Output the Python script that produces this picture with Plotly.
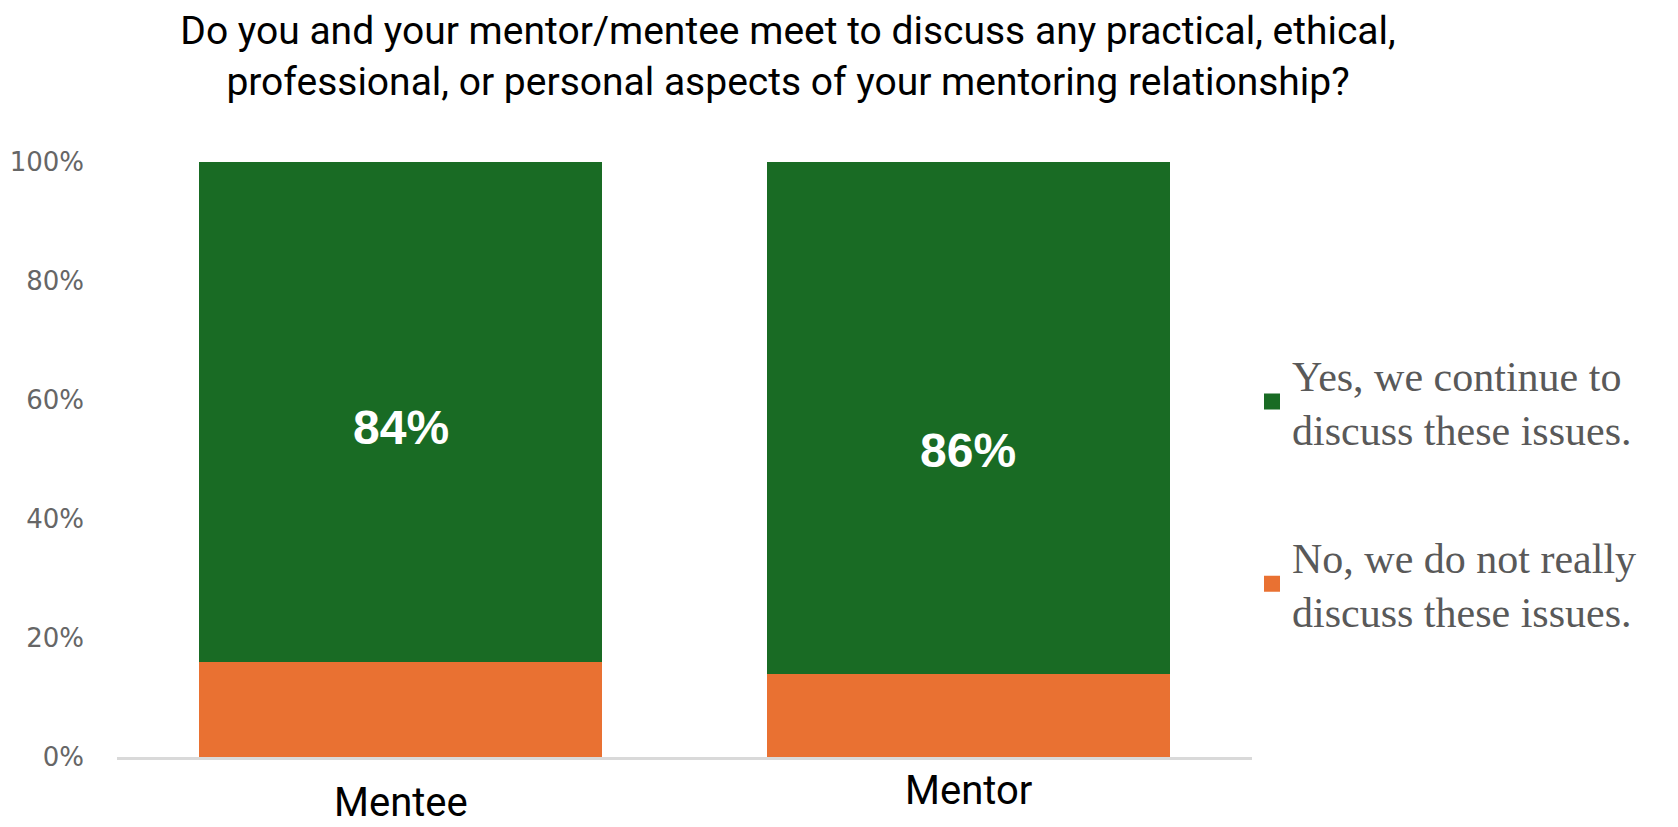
import plotly.graph_objects as go

categories = ["Mentee", "Mentor"]
yes_vals = [0.84, 0.86]
no_vals = [0.16, 0.14]
yes_name = "Yes, we continue to<br>discuss these issues."
no_name = "No, we do not really<br>discuss these issues."
title_text = ("Do you and your mentor/mentee meet to discuss any practical, ethical,<br>"
              "professional, or personal aspects of your mentoring relationship?")
label_yshift = [-16, -33]
xlabel_yshift = [-45, -33]

GREEN = "#196B24"
ORANGE = "#E97132"

W, H = 1670, 819  # page body has an 8px margin

fig = go.Figure()
fig.add_trace(go.Bar(x=categories, y=no_vals, name=no_name, marker_color=ORANGE,
                     marker_line_width=0, showlegend=False))
fig.add_trace(go.Bar(x=categories, y=yes_vals, name=yes_name, marker_color=GREEN,
                     marker_line_width=0, showlegend=False))
# legend entries (square swatches)
fig.add_trace(go.Scatter(x=[None], y=[None], mode="markers", name=yes_name,
                         marker=dict(symbol="square", size=18, color=GREEN),
                         legendgroup="yes", hoverinfo="skip"))
fig.add_trace(go.Scatter(x=[None], y=[None], mode="markers", name=no_name,
                         marker=dict(symbol="square", size=18, color=ORANGE),
                         legendgroup="no", hoverinfo="skip"))

for i, c in enumerate(categories):
    fig.add_annotation(x=c, y=no_vals[i] + yes_vals[i] / 2, xref="x", yref="y",
                       text=f"{round(yes_vals[i]*100)}%", showarrow=False,
                       yshift=label_yshift[i],
                       font=dict(family="Liberation Sans", size=48, color="white", weight="bold"))
    fig.add_annotation(x=c, y=0, xref="x", yref="paper", text=c, showarrow=False,
                       yshift=xlabel_yshift[i], yanchor="middle",
                       font=dict(family="Roboto", size=40, color="black"))

fig.update_layout(
    width=W, height=H,
    barmode="stack", bargap=0.29,
    paper_bgcolor="white", plot_bgcolor="white",
    margin=dict(l=109, r=425, t=154, b=70),
    title=dict(text=title_text, x=780/W, xref="container", xanchor="center",
               y=1 - 36/H, yref="container", yanchor="middle",
               font=dict(family="Roboto", size=39, color="black")),
    xaxis=dict(showticklabels=False, showline=True, linecolor="#D9D9D9", linewidth=3,
               ticks="", showgrid=False, zeroline=False, automargin=False),
    yaxis=dict(range=[0, 1], tickvals=[0, 0.2, 0.4, 0.6, 0.8, 1.0],
               ticktext=["0%", "20%", "40%", "60%", "80%", "100%"],
               showgrid=False, zeroline=False, showline=False, ticks="",
               ticklabelstandoff=32, automargin=False,
               tickfont=dict(family="DejaVu Sans", size=26, color="#666666")),
    legend=dict(x=1244/W, xref="container", xanchor="left",
                y=0.70, yref="paper", yanchor="top",
                traceorder="grouped", tracegroupgap=70, itemsizing="trace",
                font=dict(family="Liberation Serif", size=42, color="#595959"),
                bgcolor="rgba(0,0,0,0)"),
    showlegend=True,
)

fig.write_html("out.html")
